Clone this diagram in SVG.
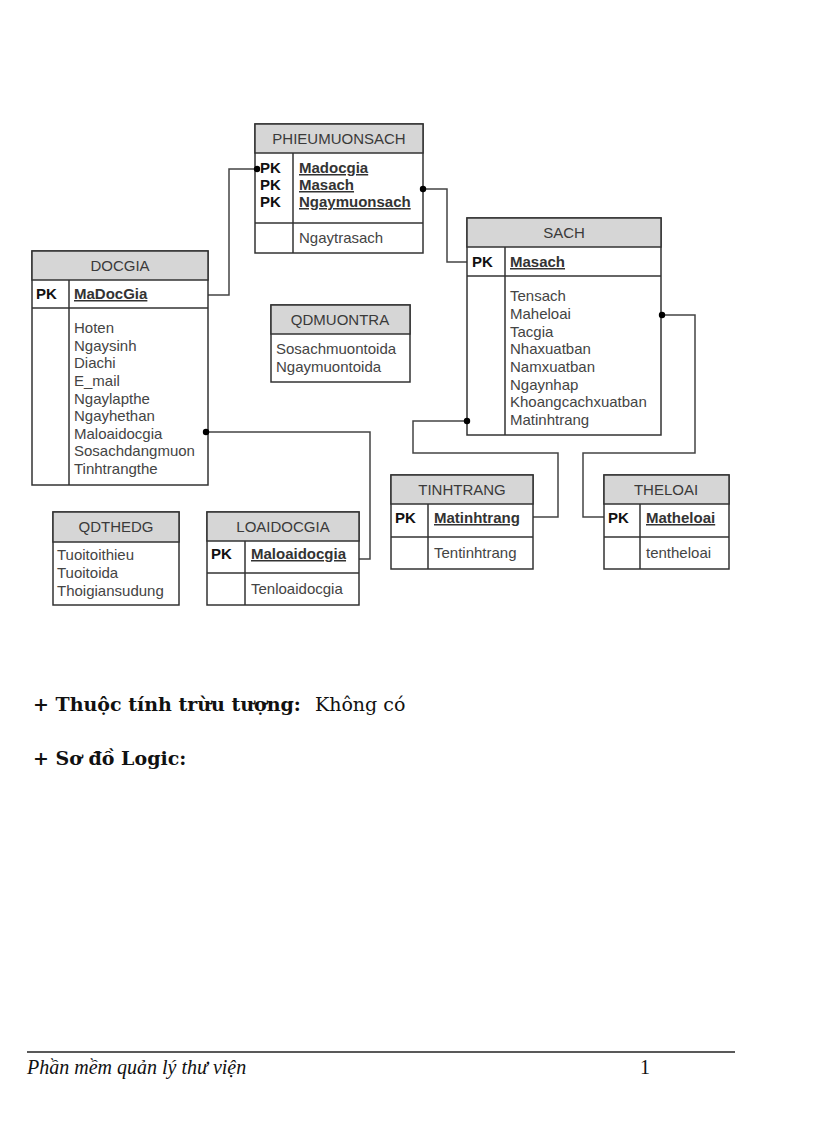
<svg xmlns="http://www.w3.org/2000/svg" width="816" height="1123" viewBox="0 0 816 1123">
<style>
.box{fill:#fff;stroke:#333;stroke-width:1.5}
.hdr{fill:#d6d6d6;stroke:#333;stroke-width:1.5}
.ln{stroke:#333;stroke-width:1.5;fill:none}
.t{font-family:"Liberation Sans",Arial,sans-serif;font-size:15px;fill:#444}
.h{font-family:"Liberation Sans",Arial,sans-serif;font-size:15px;fill:#3a3a3a;text-anchor:middle}
.pk{font-family:"Liberation Sans",Arial,sans-serif;font-size:15px;font-weight:bold;fill:#111}
.k{font-family:"Liberation Sans",Arial,sans-serif;font-size:15px;font-weight:bold;fill:#333;text-decoration:underline}
.conn{stroke:#444;stroke-width:1.5;fill:none}
.dot{fill:#000}
.s{font-family:"DejaVu Serif","Liberation Serif",serif;font-size:19px;fill:#111}
</style>

<g id="connectors">
<polyline class="conn" points="208,295 229,295 229,169 255,169"/>
<polyline class="conn" points="423,189 447,189 447,262 467,262"/>
<polyline class="conn" points="661,315 695,315 695,453 583,453 583,517 604,517"/>
<polyline class="conn" points="467,421 413,421 413,453 558,453 558,517 533,517"/>
<polyline class="conn" points="206,432 370,432 370,559 359,559"/>
</g>

<g id="PHIEUMUONSACH">
<rect class="box" x="255" y="124" width="168" height="129"/>
<rect class="hdr" x="255" y="124" width="168" height="29"/>
<line class="ln" x1="255" y1="223" x2="423" y2="223"/>
<line class="ln" x1="293" y1="153" x2="293" y2="253"/>
<text class="h" x="339" y="144">PHIEUMUONSACH</text>
<text class="pk" x="260" y="173">PK</text>
<text class="pk" x="260" y="190">PK</text>
<text class="pk" x="260" y="207">PK</text>
<text class="k" x="299" y="173">Madocgia</text>
<text class="k" x="299" y="190">Masach</text>
<text class="k" x="299" y="207">Ngaymuonsach</text>
<text class="t" x="299" y="243">Ngaytrasach</text>
</g>

<g id="DOCGIA">
<rect class="box" x="32" y="251" width="176" height="234"/>
<rect class="hdr" x="32" y="251" width="176" height="29"/>
<line class="ln" x1="32" y1="308" x2="208" y2="308"/>
<line class="ln" x1="69" y1="280" x2="69" y2="485"/>
<text class="h" x="120" y="271">DOCGIA</text>
<text class="pk" x="36" y="299">PK</text>
<text class="k" x="74" y="299">MaDocGia</text>
<text class="t" x="74" y="333">Hoten</text>
<text class="t" x="74" y="351">Ngaysinh</text>
<text class="t" x="74" y="368">Diachi</text>
<text class="t" x="74" y="386">E_mail</text>
<text class="t" x="74" y="404">Ngaylapthe</text>
<text class="t" x="74" y="421">Ngayhethan</text>
<text class="t" x="74" y="439">Maloaidocgia</text>
<text class="t" x="74" y="456">Sosachdangmuon</text>
<text class="t" x="74" y="474">Tinhtrangthe</text>
</g>

<g id="QDMUONTRA">
<rect class="box" x="271" y="305" width="139" height="77"/>
<rect class="hdr" x="271" y="305" width="139" height="29"/>
<text class="h" x="340" y="325">QDMUONTRA</text>
<text class="t" x="276" y="354">Sosachmuontoida</text>
<text class="t" x="276" y="372">Ngaymuontoida</text>
</g>

<g id="SACH">
<rect class="box" x="467" y="218" width="194" height="217"/>
<rect class="hdr" x="467" y="218" width="194" height="29"/>
<line class="ln" x1="467" y1="276" x2="661" y2="276"/>
<line class="ln" x1="505" y1="247" x2="505" y2="435"/>
<text class="h" x="564" y="238">SACH</text>
<text class="pk" x="472" y="267">PK</text>
<text class="k" x="510" y="267">Masach</text>
<text class="t" x="510" y="301">Tensach</text>
<text class="t" x="510" y="319">Maheloai</text>
<text class="t" x="510" y="337">Tacgia</text>
<text class="t" x="510" y="354">Nhaxuatban</text>
<text class="t" x="510" y="372">Namxuatban</text>
<text class="t" x="510" y="390">Ngaynhap</text>
<text class="t" x="510" y="407">Khoangcachxuatban</text>
<text class="t" x="510" y="425">Matinhtrang</text>
</g>

<g id="QDTHEDG">
<rect class="box" x="53" y="512" width="126" height="93"/>
<rect class="hdr" x="53" y="512" width="126" height="30"/>
<text class="h" x="116" y="532">QDTHEDG</text>
<text class="t" x="57" y="560">Tuoitoithieu</text>
<text class="t" x="57" y="578">Tuoitoida</text>
<text class="t" x="57" y="596">Thoigiansudung</text>
</g>

<g id="LOAIDOCGIA">
<rect class="box" x="207" y="512" width="152" height="93"/>
<rect class="hdr" x="207" y="512" width="152" height="29"/>
<line class="ln" x1="207" y1="573" x2="359" y2="573"/>
<line class="ln" x1="245" y1="541" x2="245" y2="605"/>
<text class="h" x="283" y="532">LOAIDOCGIA</text>
<text class="pk" x="211" y="559">PK</text>
<text class="k" x="251" y="559">Maloaidocgia</text>
<text class="t" x="251" y="594">Tenloaidocgia</text>
</g>

<g id="TINHTRANG">
<rect class="box" x="391" y="475" width="142" height="94"/>
<rect class="hdr" x="391" y="475" width="142" height="29"/>
<line class="ln" x1="391" y1="537" x2="533" y2="537"/>
<line class="ln" x1="428" y1="504" x2="428" y2="569"/>
<text class="h" x="462" y="495">TINHTRANG</text>
<text class="pk" x="395" y="523">PK</text>
<text class="k" x="434" y="523">Matinhtrang</text>
<text class="t" x="434" y="558">Tentinhtrang</text>
</g>

<g id="THELOAI">
<rect class="box" x="604" y="475" width="125" height="94"/>
<rect class="hdr" x="604" y="475" width="125" height="29"/>
<line class="ln" x1="604" y1="537" x2="729" y2="537"/>
<line class="ln" x1="640" y1="504" x2="640" y2="569"/>
<text class="h" x="666" y="495">THELOAI</text>
<text class="pk" x="608" y="523">PK</text>
<text class="k" x="646" y="523">Matheloai</text>
<text class="t" x="646" y="558">tentheloai</text>
</g>

<g id="connector-ends">
<circle class="dot" cx="257" cy="169" r="3.2"/>
<circle class="dot" cx="423" cy="189" r="3.2"/>
<circle class="dot" cx="662" cy="315" r="3.2"/>
<circle class="dot" cx="467" cy="421" r="3.2"/>
<circle class="dot" cx="206" cy="432" r="3.2"/>
</g>

<text class="s" x="33" y="711"><tspan font-weight="bold">+ Thuộc  tính trừu tượng:</tspan><tspan x="315">Không có</tspan></text>
<text class="s" x="33" y="765" font-weight="bold">+ Sơ đồ Logic:</text>

<line x1="27" y1="1052" x2="735" y2="1052" stroke="#222" stroke-width="1.3"/>
<text x="27" y="1074" font-family="'Liberation Serif','DejaVu Serif',serif" font-size="20" font-style="italic" fill="#111">Phần mềm quản lý thư viện</text>
<text x="640" y="1074" font-family="'Liberation Serif','DejaVu Serif',serif" font-size="20" fill="#111">1</text>
</svg>
